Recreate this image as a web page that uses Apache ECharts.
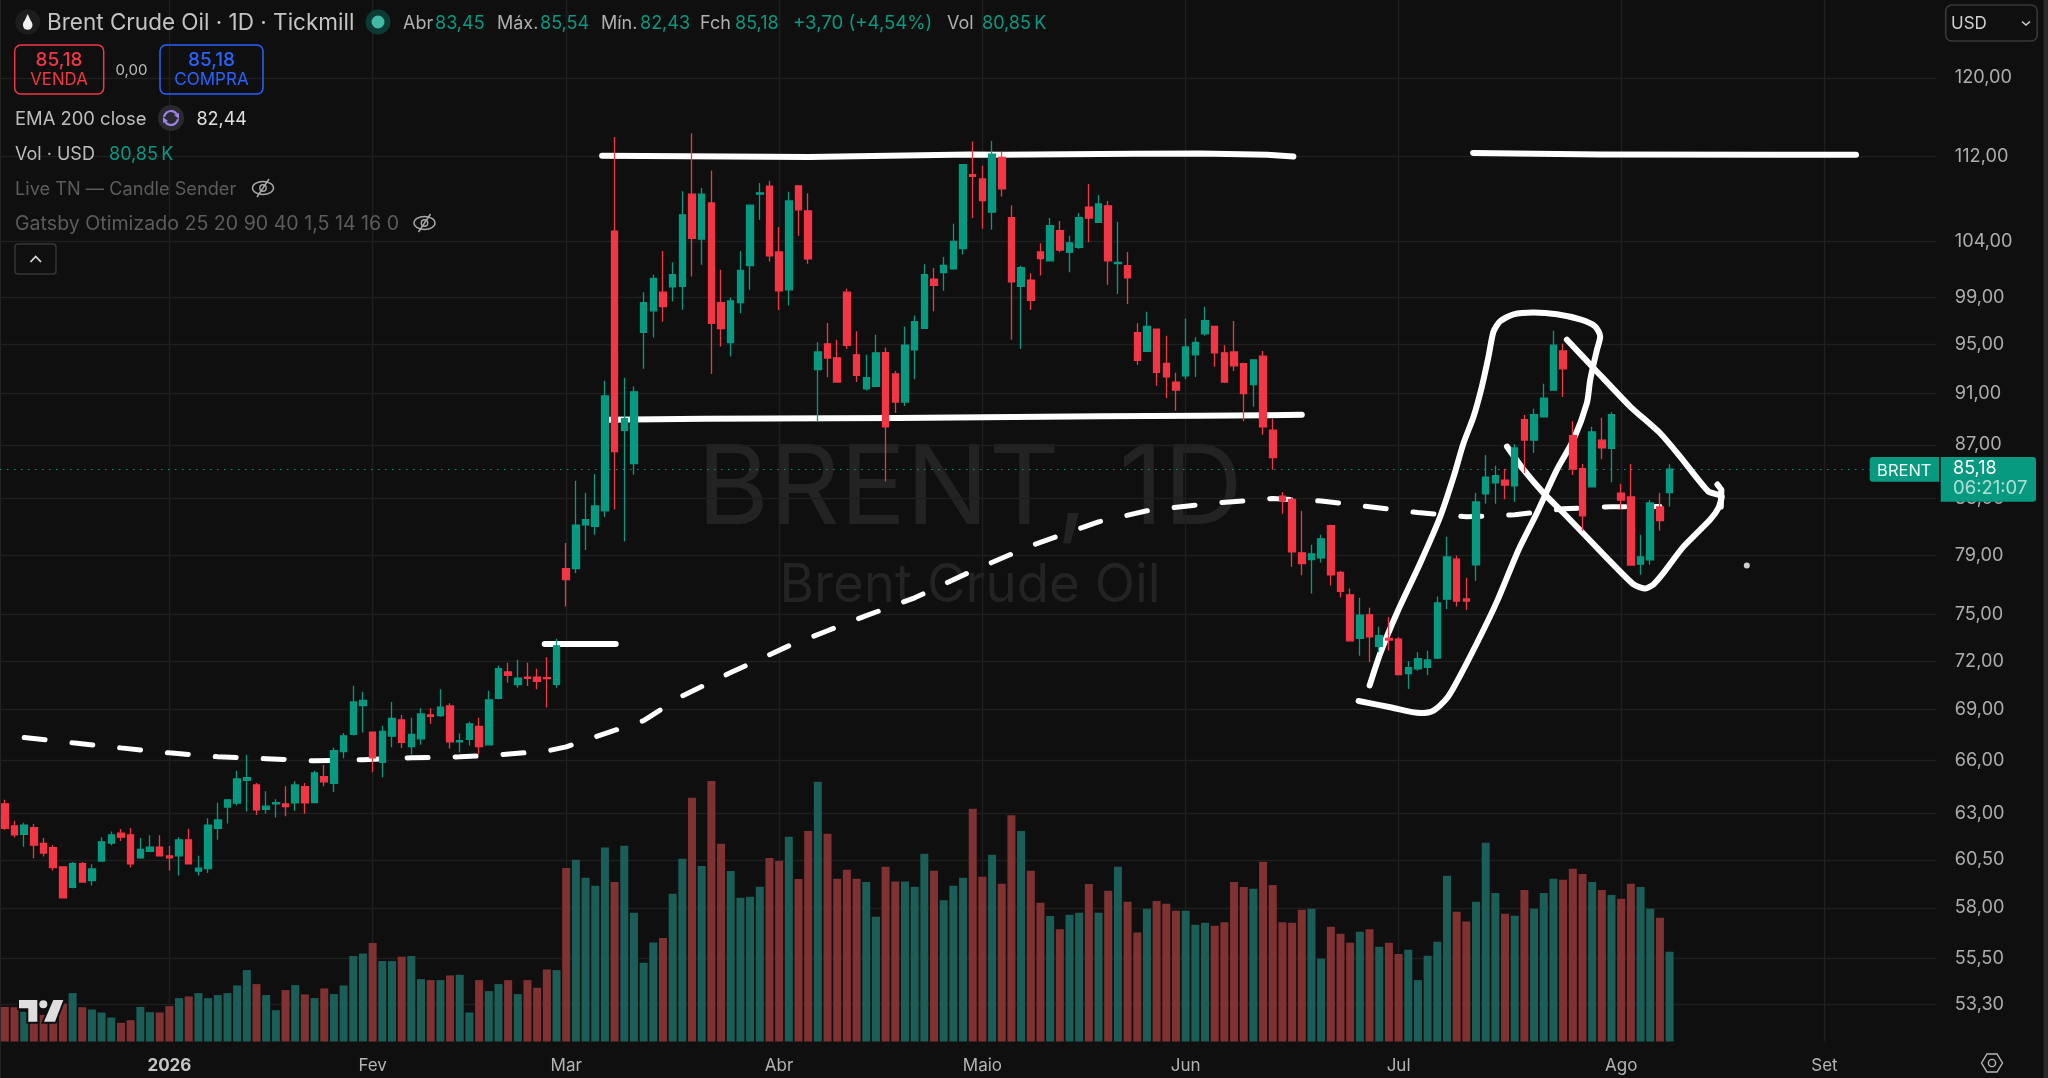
<!DOCTYPE html>
<html><head><meta charset="utf-8">
<style>html,body{margin:0;padding:0;background:#0f0f0f}#c{width:2048px;height:1078px}</style>
<script src="https://cdn.jsdelivr.net/npm/echarts@6/dist/echarts.min.js"></script>
</head><body><div id="c"></div>
<script>
const openPrices=[63.54,62.33,61.86,62.23,61.38,61.15,60.13,59.06,60.29,59.41,
60.43,61.39,61.93,61.84,60.60,60.95,61.17,60.71,60.71,61.57,
59.90,60.04,62.19,63.36,63.58,64.86,64.60,63.23,63.54,63.54,
63.60,64.50,63.61,65.07,64.69,66.52,67.52,69.25,67.66,65.89,
67.42,68.38,66.81,67.26,68.68,68.64,69.23,67.09,67.23,68.00,
66.91,69.69,71.32,70.53,71.00,71.00,70.96,70.55,78.07,78.07,
81.13,81.01,82.13,104.93,88.12,85.60,96.02,97.85,99.46,99.93,
99.96,108.37,104.19,107.54,98.55,95.17,98.55,101.81,108.37,109.14,
103.02,99.66,109.17,106.80,92.93,95.06,93.90,99.46,94.15,91.39,
91.58,94.33,92.58,90.34,94.55,96.36,100.61,101.17,101.52,103.32,
110.23,109.82,106.68,111.91,106.16,99.96,100.52,103.02,102.23,104.96,
102.99,103.45,107.14,105.73,107.27,101.99,101.79,95.99,94.44,96.30,
93.44,91.93,92.44,94.15,95.90,96.52,94.31,94.39,93.42,91.72,
94.04,88.14,83.18,82.96,79.16,78.70,78.82,81.06,77.82,76.30,
73.45,74.98,72.93,73.45,73.40,71.21,71.52,71.61,72.19,76.01,
78.72,76.03,78.34,83.35,84.17,84.37,83.95,88.95,87.37,89.18,
91.28,94.47,87.71,85.21,83.87,87.37,86.75,83.40,83.13,78.38,
78.68,82.41,83.45];
const closePrices=[62.19,61.84,62.37,61.28,60.86,60.09,58.52,60.29,59.33,60.02,
61.46,61.84,61.71,60.29,61.06,61.17,60.71,60.60,61.57,60.29,
60.06,62.37,62.65,63.76,64.94,65.01,63.21,63.41,63.61,63.39,
64.60,63.60,65.28,64.77,66.57,67.44,69.47,69.57,66.15,67.70,
68.48,67.05,67.52,68.74,68.60,69.15,67.09,67.15,68.14,66.81,
69.59,71.52,71.11,70.94,70.92,70.73,70.90,72.97,77.32,81.11,
81.49,82.48,90.82,86.49,89.03,91.15,98.55,100.67,98.22,100.99,
106.43,104.25,108.37,96.78,96.33,98.70,101.37,107.33,108.50,102.67,
99.57,107.73,106.90,102.40,94.39,93.88,91.93,94.94,92.47,92.28,
94.31,88.40,90.34,94.94,96.92,100.99,100.05,101.81,103.97,111.20,
110.07,107.76,112.23,108.88,100.37,101.61,98.75,102.43,105.42,103.20,
103.85,106.16,106.13,107.45,102.23,102.08,100.72,93.69,96.52,92.71,
92.36,91.28,94.80,95.18,97.00,94.31,91.93,93.25,91.01,93.74,
88.40,86.05,82.84,79.22,78.41,79.09,80.14,77.64,76.53,73.29,
74.96,73.55,73.62,73.34,71.15,71.59,72.15,72.07,75.76,78.88,
75.89,75.89,82.77,84.59,84.69,84.00,86.78,87.38,89.34,90.64,
94.95,93.00,85.19,81.77,88.00,86.78,89.34,82.91,78.32,78.88,
82.70,81.42,85.18];
const lowPrices=[62.12,61.70,61.20,60.58,60.67,59.94,58.49,59.01,59.31,59.15,
60.43,61.28,61.51,60.09,60.55,60.92,60.67,59.94,59.67,60.27,
59.67,59.80,61.57,62.45,63.45,63.12,62.92,62.99,62.79,62.85,
63.16,62.99,63.61,64.52,64.20,66.12,67.46,67.64,65.32,65.04,
66.76,66.73,66.34,66.91,68.16,68.58,66.69,66.46,66.87,66.34,
66.89,69.63,70.65,70.34,70.44,70.25,69.13,70.34,75.52,77.78,
79.36,80.43,81.68,82.22,79.95,84.77,93.01,95.59,96.92,98.64,
97.93,100.84,101.87,92.58,94.83,94.01,97.65,99.66,105.97,102.17,
97.91,98.30,104.49,101.96,88.82,92.31,91.93,94.63,91.93,91.25,
91.58,84.27,89.49,90.03,92.15,96.36,97.82,99.58,101.43,102.79,
106.13,105.14,105.05,108.14,95.40,94.63,97.91,100.93,102.23,102.99,
101.20,103.32,103.91,105.73,100.11,99.31,98.44,93.34,94.39,91.63,
90.64,89.65,92.15,92.33,95.73,93.17,91.85,92.82,88.82,89.96,
87.78,85.14,81.91,78.20,77.62,76.39,78.50,76.93,76.12,73.29,
72.34,71.92,72.56,72.67,71.15,70.26,71.40,71.11,72.13,75.35,
75.53,75.31,77.25,82.63,82.63,82.96,82.79,84.89,86.40,89.13,
91.23,90.74,84.74,80.71,83.87,85.93,84.20,82.22,78.32,77.66,
78.34,80.71,82.43];
const highPrices=[63.76,62.61,62.50,62.43,61.66,61.28,60.15,60.39,60.39,60.27,
61.71,62.02,62.15,62.21,61.66,61.82,61.82,61.24,61.71,62.17,
60.72,62.74,63.60,63.80,65.41,66.33,64.71,64.25,63.80,64.52,
64.81,64.71,65.41,65.74,66.75,67.60,70.46,70.09,67.70,68.04,
69.47,68.68,68.52,69.09,69.09,70.25,69.39,67.58,68.28,68.52,
70.15,71.71,71.90,72.09,71.90,71.52,72.25,73.42,79.84,84.32,
83.43,84.82,92.04,113.93,92.28,91.58,99.46,100.99,103.11,102.11,
108.66,114.32,108.95,110.65,101.43,98.99,103.11,107.33,109.43,109.66,
105.29,108.60,109.17,108.47,95.20,96.81,95.40,99.75,96.11,94.15,
95.82,94.75,92.82,96.52,97.45,101.93,101.58,102.58,105.60,111.20,
113.48,111.10,113.55,112.49,107.33,101.79,101.11,103.82,106.13,105.85,
104.49,106.59,109.34,108.30,107.73,105.79,103.02,96.78,97.77,96.30,
95.74,92.69,97.20,95.60,98.19,96.52,94.94,96.98,93.50,93.79,
94.47,89.02,83.50,83.10,82.13,79.72,80.42,81.13,77.93,76.73,
76.10,75.44,74.20,74.83,73.53,72.00,72.56,72.65,76.19,80.28,
78.97,77.45,83.43,86.25,85.43,85.21,87.06,89.31,89.80,91.80,
96.16,95.06,88.82,85.56,88.40,89.11,89.54,84.09,85.56,80.42,
82.91,83.43,85.54];
const volumesK=[31.2,30.9,26.7,25,24,22,34.2,43.6,30.9,28.8,
26.1,21.6,16.8,19.2,31.2,26.4,26.1,31.8,39.1,40.6,
43.6,39.1,41.8,43.6,50.5,64.3,51.7,41.8,28.2,46.3,
50.8,42.4,39.1,47.8,42.7,50.5,76.9,79.3,88.6,72.4,
72.4,76.3,76.9,56.2,55.3,55.3,59.5,60.1,26.1,55.3,
45.4,51.7,55.3,42.7,55.3,48.4,64.9,64.3,156.2,163.7,
147.5,140.3,174.8,143.6,176.3,116,70.9,89.2,93.1,133.1,
164.6,219.6,158,234.6,178.1,153.5,129.5,130.4,139.4,165.2,
162.5,184.4,146.3,189.6,234,187.1,146.6,154.7,146.6,143.6,
112.3,157.4,144.2,144.2,139.4,169.1,153.8,127.1,140.3,147.5,
209.7,148.4,168.2,142.1,203.7,189.6,153.8,125,113,101.2,
114.2,116,141.8,116,135.8,157.4,125.9,98.2,119.6,126.5,
124.1,117.8,117.8,105.1,106.9,104.2,107.5,143.6,139.1,137.6,
161.9,140.9,107.5,106.9,118.7,119.6,74.5,103.3,97,88.9,
98.8,101.2,85.3,88.9,78.7,82.6,55.3,77.2,89.8,149.3,
116.9,108.1,125.9,179,133.7,115,113.3,136.4,119.6,133.7,
146.6,145.7,155.6,150.8,143.6,136.4,131.9,128.6,142.1,139.1,
119.6,111.4,80.85];
const emaIndex=[2,7,12,17,22,27,32,37,42,47,51,56,58,62,66,70,75,81,85,89,94,100,106,113,118,124,131,136,141,146,151,156,161,166,171];
const emaValues=[67.34,67.03,66.73,66.44,66.21,66.10,65.98,66.04,66.15,66.21,66.32,66.55,66.79,67.57,68.34,69.84,71.28,72.97,73.94,74.92,76.10,77.93,79.65,81.34,82.13,82.62,83.02,82.84,82.42,82.00,81.70,81.84,82.27,82.42,82.44];
const priceTicks=[120,112,104,99,95,91,87,83,79,75,72,69,66,63,60.5,58,55.5,53.3];
const monthIndex=[17,38,58,80,101,122,144,167,188];
const monthLabels=['2026','Fev','Mar','Abr','Maio','Jun','Jul','Ago','Set'];
const lastPrice=85.18;
// hand-drawn strokes: bar slot, price
const strokeTopX=[61.71,83.04,99.63,102.87,116.6,123.52,130.44,133.13];
const strokeTopP=[112.07,111.95,112.2,112.17,112.27,112.3,112.17,112.0];
const strokeTop2X=[151.7,164.83,183.4,191.26];
const strokeTop2P=[112.36,112.21,112.17,112.19];
const strokeMidX=[62.3,72.3,92.23,113.2,123.52,130.44,134.0];
const strokeMidP=[88.95,89.03,89.08,89.22,89.26,89.29,89.34];
const strokeLowX=[55.78,63.11];
const strokeLowP=[73.08,73.08];
const loopX=[139.87,143.14,146.24,147.61,149.0,149.86,152.1,154.16,156.39,158.29,160.36,162.07,163.45,163.8,164.49,164.83,164.31,162.76,160.36,157.94,155.88,154.5,153.81,153.29,152.61,151.75,150.71,149.68,148.31,146.24,143.83,142.11,141.01];
const loopP=[69.53,69.15,68.8,68.95,69.7,70.53,73.15,75.85,79.36,81.97,85.14,87.4,90.24,92.12,94.55,95.68,96.52,97.11,97.55,97.7,97.55,96.96,96.09,94.0,91.58,89.2,87.14,84.6,81.72,78.46,75.1,72.5,70.48];
const wedgeX=[161.39,164.31,167.93,171.03,173.09,176.01,177.39,177.04,176.18,173.43,171.37,170.33,169.49,168.28,165.53,161.04,158.98,156.91,155.2];
const wedgeP=[95.4,92.93,89.98,87.9,86.12,83.53,83.16,82.32,81.49,79.59,77.78,77.0,76.72,77.0,78.8,81.97,83.41,85.14,86.88];
const hookX=[176.94,177.35,177.29];
const hookP=[84.04,83.66,82.43];
const dotX=[179.98];
const dotP=[78.29];

const SLOTS=200, PITCH=9.684, FIRST=3.8, LEFT=FIRST-PITCH/2, WIDTH=SLOTS*PITCH, BOTTOM=1041.5;
const UP='#089981', DOWN='#F23645', TXT='#b4b4b4', FONT='Inter';
const categories=Array.from({length:SLOTS},(_,i)=>{const k=monthIndex.indexOf(i);return k>=0?monthLabels[k]:''});
const zip=(a,b)=>a.map((v,i)=>[v,b[i]]);
const fmt=v=>v.toFixed(2).replace('.',',');

const stroke=(name,xs,ps,smooth)=>({name,type:'line',xAxisIndex:1,yAxisIndex:0,data:zip(xs,ps),symbol:'none',z:3,silent:true,smooth:smooth||false,
  lineStyle:{color:'#ffffff',width:6,cap:'round',join:'round'}});

const grey='#1f1f1f';
const gridMarks=priceTicks.map(v=>({yAxis:v,lineStyle:{color:grey,width:1.4,type:'solid'}}))
 .concat(monthIndex.map(i=>({xAxis:i,lineStyle:{color:grey,width:1.4,type:'solid'}})))
 .concat([{yAxis:lastPrice,lineStyle:{color:UP,width:1.2,type:[1.5,5.5]}}]);

const t=(text,x,y,fill,size,extra)=>Object.assign({type:'text',x,y:y+1.3,z:100,silent:true,
  style:Object.assign({text,fill,font:(size||18)+'px '+FONT,verticalAlign:'middle',align:'left'},extra||{})});
const rrect=(x,y,w,h,r,stroke,fill)=>({type:'rect',z:99,silent:true,shape:{x,y,width:w,height:h,r},style:{fill:fill||'none',stroke,lineWidth:1.5}});
const eyeOff=(cx,cy)=>[
 {type:'ellipse',z:100,silent:true,shape:{cx,cy,rx:10.5,ry:6.5},style:{fill:'none',stroke:'#a8a8a8',lineWidth:1.4}},
 {type:'circle',z:100,silent:true,shape:{cx,cy,r:3.2},style:{fill:'none',stroke:'#a8a8a8',lineWidth:1.4}},
 {type:'line',z:100,silent:true,shape:{x1:cx-6,y1:cy+9,x2:cx+6,y2:cy-9},style:{stroke:'#a8a8a8',lineWidth:1.5}}
];

const graphics=[
 {type:'text',x:970,y:491,z:0,silent:true,style:{text:'BRENT, 1D',fill:'#232323',font:'110px '+FONT,align:'center',verticalAlign:'middle'}},
 {type:'text',x:970,y:586,z:0,silent:true,style:{text:'Brent Crude Oil',fill:'#232323',font:'52.8px '+FONT,align:'center',verticalAlign:'middle'}},
 {type:'rect',z:1,silent:true,shape:{x:2043.5,y:0,width:5,height:1078},style:{fill:'#2b2b2b'}},
 {type:'rect',z:1,silent:true,shape:{x:0,y:0,width:1,height:1078},style:{fill:'#232323'}},
 {type:'circle',z:99,silent:true,shape:{cx:27.7,cy:22,r:12.5},style:{fill:'#1d1d1d'}},
 {type:'circle',z:100,silent:true,shape:{cx:27.7,cy:25,r:4.8},style:{fill:'#f0f0f0'}},
 {type:'polygon',z:100,silent:true,shape:{points:[[27.7,14],[23.3,23.5],[32.1,23.5]]},style:{fill:'#f0f0f0'}},
 t('Brent Crude Oil · 1D · Tickmill',47,22,'#c4c4c4',22.5),
 {type:'circle',z:99,silent:true,shape:{cx:378,cy:22,r:12.5},style:{fill:'#0c3a35'}},
 {type:'circle',z:100,silent:true,shape:{cx:378,cy:22,r:6.5},style:{fill:'#43b8a4'}},
 t('Abr',403,22,'#b0b0b0',18),t('83,45',435,22,UP,18),
 t('Máx.',497,22,'#b0b0b0',18),t('85,54',540,22,UP,18),
 t('Mín.',601,22,'#b0b0b0',18),t('82,43',640,22,UP,18),
 t('Fch',700,22,'#b0b0b0',18),t('85,18',735,22,UP,18),
 t('+3,70 (+4,54%)',793,22,UP,18.6),
 t('Vol',947,22,'#b0b0b0',18),t('80,85\u2009K',982,22,UP,18),
 rrect(14.7,45,89,49,6,DOWN),
 t('85,18',59,59,DOWN,19,{align:'center',font:'500 19px '+FONT}),t('VENDA',59,79,DOWN,16.8,{align:'center'}),
 t('0,00',131.5,69,'#bdbdbd',15,{align:'center'}),
 rrect(160,45,103,49,6,'#2962FF'),
 t('85,18',211.5,59,'#2962FF',19,{align:'center',font:'500 19px '+FONT}),t('COMPRA',211.5,79,'#2962FF',17,{align:'center'}),
 t('EMA 200 close',15,118,'#bdbdbd',18.4),
 {type:'circle',z:99,silent:true,shape:{cx:171,cy:118,r:13},style:{fill:'#2a2a2e'}},
 {type:'arc',z:100,silent:true,shape:{cx:171,cy:118,r:7,startAngle:Math.PI*1.05,endAngle:Math.PI*1.8},style:{stroke:'#a083e8',lineWidth:2.2,fill:'none'}},
 {type:'arc',z:100,silent:true,shape:{cx:171,cy:118,r:7,startAngle:Math.PI*0.05,endAngle:Math.PI*0.8},style:{stroke:'#a083e8',lineWidth:2.2,fill:'none'}},
 {type:'polygon',z:100,silent:true,shape:{points:[[179,113],[179,119],[174,115]]},style:{fill:'#a083e8'}},
 {type:'polygon',z:100,silent:true,shape:{points:[[163,123],[163,117],[168,121]]},style:{fill:'#a083e8'}},
 t('82,44',196.4,118,'#e0e0e0',18),
 t('Vol · USD',15,153,'#bdbdbd',18),t('80,85\u2009K',109,153,UP,18),
 t('Live TN — Candle Sender',15,188,'#5c5c5c',18.2),
 ...eyeOff(263,188),
 t('Gatsby Otimizado 25 20 90 40 1,5 14 16 0',15,223,'#5c5c5c',19.6),
 ...eyeOff(424.5,223),
 rrect(15,244,41,30,3,'#363636'),
 {type:'polyline',z:100,silent:true,shape:{points:[[30.5,262],[35.7,256.5],[41,262]]},style:{stroke:'#d8d8d8',lineWidth:1.8,fill:'none'}},
 rrect(1945.7,5,91.5,36,6,'#3a3a3a'),
 t('USD',1951,23,'#cfcfcf',17),
 {type:'polyline',z:100,silent:true,shape:{points:[[2022,21.5],[2026,25],[2030,21.5]]},style:{stroke:'#cfcfcf',lineWidth:1.6,fill:'none'}},
 {type:'rect',z:99,silent:true,shape:{x:1869.7,y:457,width:69.3,height:24.7,r:[3,0,0,3]},style:{fill:UP}},
 t('BRENT',1904.3,469.5,'#eafff9',16.5,{align:'center'}),
 {type:'rect',z:99,silent:true,shape:{x:1940.7,y:457,width:95.3,height:44.7,r:[0,3,3,0]},style:{fill:UP}},
 t('85,18',1953,467.5,'#ffffff',18),
 t('06:21:07',1953,487,'rgba(255,255,255,.68)',18.5),
 {type:'polygon',z:99,silent:true,shape:{points:[[1981.5,1063],[1987,1054],[1997,1054],[2002.5,1063],[1997,1072],[1987,1072]]},style:{fill:'none',stroke:'#b8b8b8',lineWidth:1.4}},
 {type:'circle',z:99,silent:true,shape:{cx:1992,cy:1063,r:3.6},style:{fill:'none',stroke:'#b8b8b8',lineWidth:1.4}},
 {type:'polygon',z:101,silent:true,shape:{points:[[19,1000],[37.3,1000],[37.3,1021.7],[28.3,1021.7],[28.3,1008.3],[19,1008.3]]},style:{fill:'#dedede',stroke:'#0f0f0f',lineWidth:4,strokeFirst:true}},
 {type:'polygon',z:101,silent:true,shape:{points:[[53.3,1000],[63.3,1000],[55,1021.7],[44,1021.7]]},style:{fill:'#dedede',stroke:'#0f0f0f',lineWidth:4,strokeFirst:true}},
 {type:'circle',z:101,silent:true,shape:{cx:43.3,cy:1004.3,r:4},style:{fill:'#dedede',stroke:'#0f0f0f',lineWidth:3,strokeFirst:true}}
];

const option={
 animation:false,backgroundColor:'#0f0f0f',
 grid:[{left:LEFT,top:0,width:WIDTH,height:BOTTOM},{left:LEFT,top:781,width:WIDTH,height:BOTTOM-781}],
 xAxis:[
  {type:'category',gridIndex:0,data:categories,boundaryGap:true,axisLine:{show:false},axisTick:{show:false},splitLine:{show:false},
   axisLabel:{interval:0,margin:16,color:TXT,fontFamily:FONT,fontSize:17,
     formatter:v=>v==='2026'?'{b|2026}':v,rich:{b:{fontWeight:700,color:'#c4c4c4',fontSize:17,fontFamily:FONT}}}},
  {type:'value',gridIndex:0,min:-0.5,max:SLOTS-0.5,show:false},
  {type:'category',gridIndex:1,data:categories,show:false}
 ],
 yAxis:[
  {type:'log',logBase:10,gridIndex:0,position:'right',min:51.6,max:128.46,axisLine:{show:false},axisTick:{show:false},splitLine:{show:false},
   axisLabel:{customValues:priceTicks,margin:19,color:'#adadad',fontFamily:FONT,fontSize:18.2,formatter:v=>fmt(+v)}},
  {type:'value',gridIndex:1,min:0,max:234.6,show:false,splitLine:{show:false}}
 ],
 graphic:graphics,
 series:[
  {name:'guides',type:'line',data:[[0,lastPrice]],symbol:'none',lineStyle:{opacity:0},silent:true,z:1,
   markLine:{silent:true,symbol:'none',label:{show:false},z:1,animation:false,data:gridMarks}},
  {name:'Vol',type:'bar',xAxisIndex:2,yAxisIndex:1,barWidth:8,z:2,silent:true,
   data:volumesK.map((v,i)=>({value:v,itemStyle:{color:closePrices[i]>=openPrices[i]?'#1b5e57':'#803233'}}))},
  {name:'EMA 200',type:'line',data:zip(emaIndex,emaValues),symbol:'none',z:3,silent:true,
   lineStyle:{color:'#fff',width:5,type:[21,27],cap:'round'}},
  stroke('resistance',strokeTopX,strokeTopP),
  stroke('resistance2',strokeTop2X,strokeTop2P),
  stroke('support',strokeMidX,strokeMidP),
  stroke('mark',strokeLowX,strokeLowP),
  stroke('loop',loopX,loopP,0.25),
  stroke('wedge',wedgeX,wedgeP,0.2),
  stroke('hook',hookX,hookP),
  {name:'dot',type:'scatter',xAxisIndex:1,yAxisIndex:0,data:zip(dotX,dotP),symbolSize:6,itemStyle:{color:'#fff'},z:3,silent:true},
  {name:'Brent',type:'candlestick',barWidth:7,z:5,silent:true,
   data:openPrices.map((o,i)=>[o,closePrices[i],lowPrices[i],highPrices[i]]),
   itemStyle:{color:UP,color0:DOWN,borderColor:UP,borderColor0:DOWN,borderWidth:1.3}}
 ]
};
const chart=echarts.init(document.getElementById('c'),null,{renderer:'canvas'});
chart.setOption(option);
</script></body></html>
